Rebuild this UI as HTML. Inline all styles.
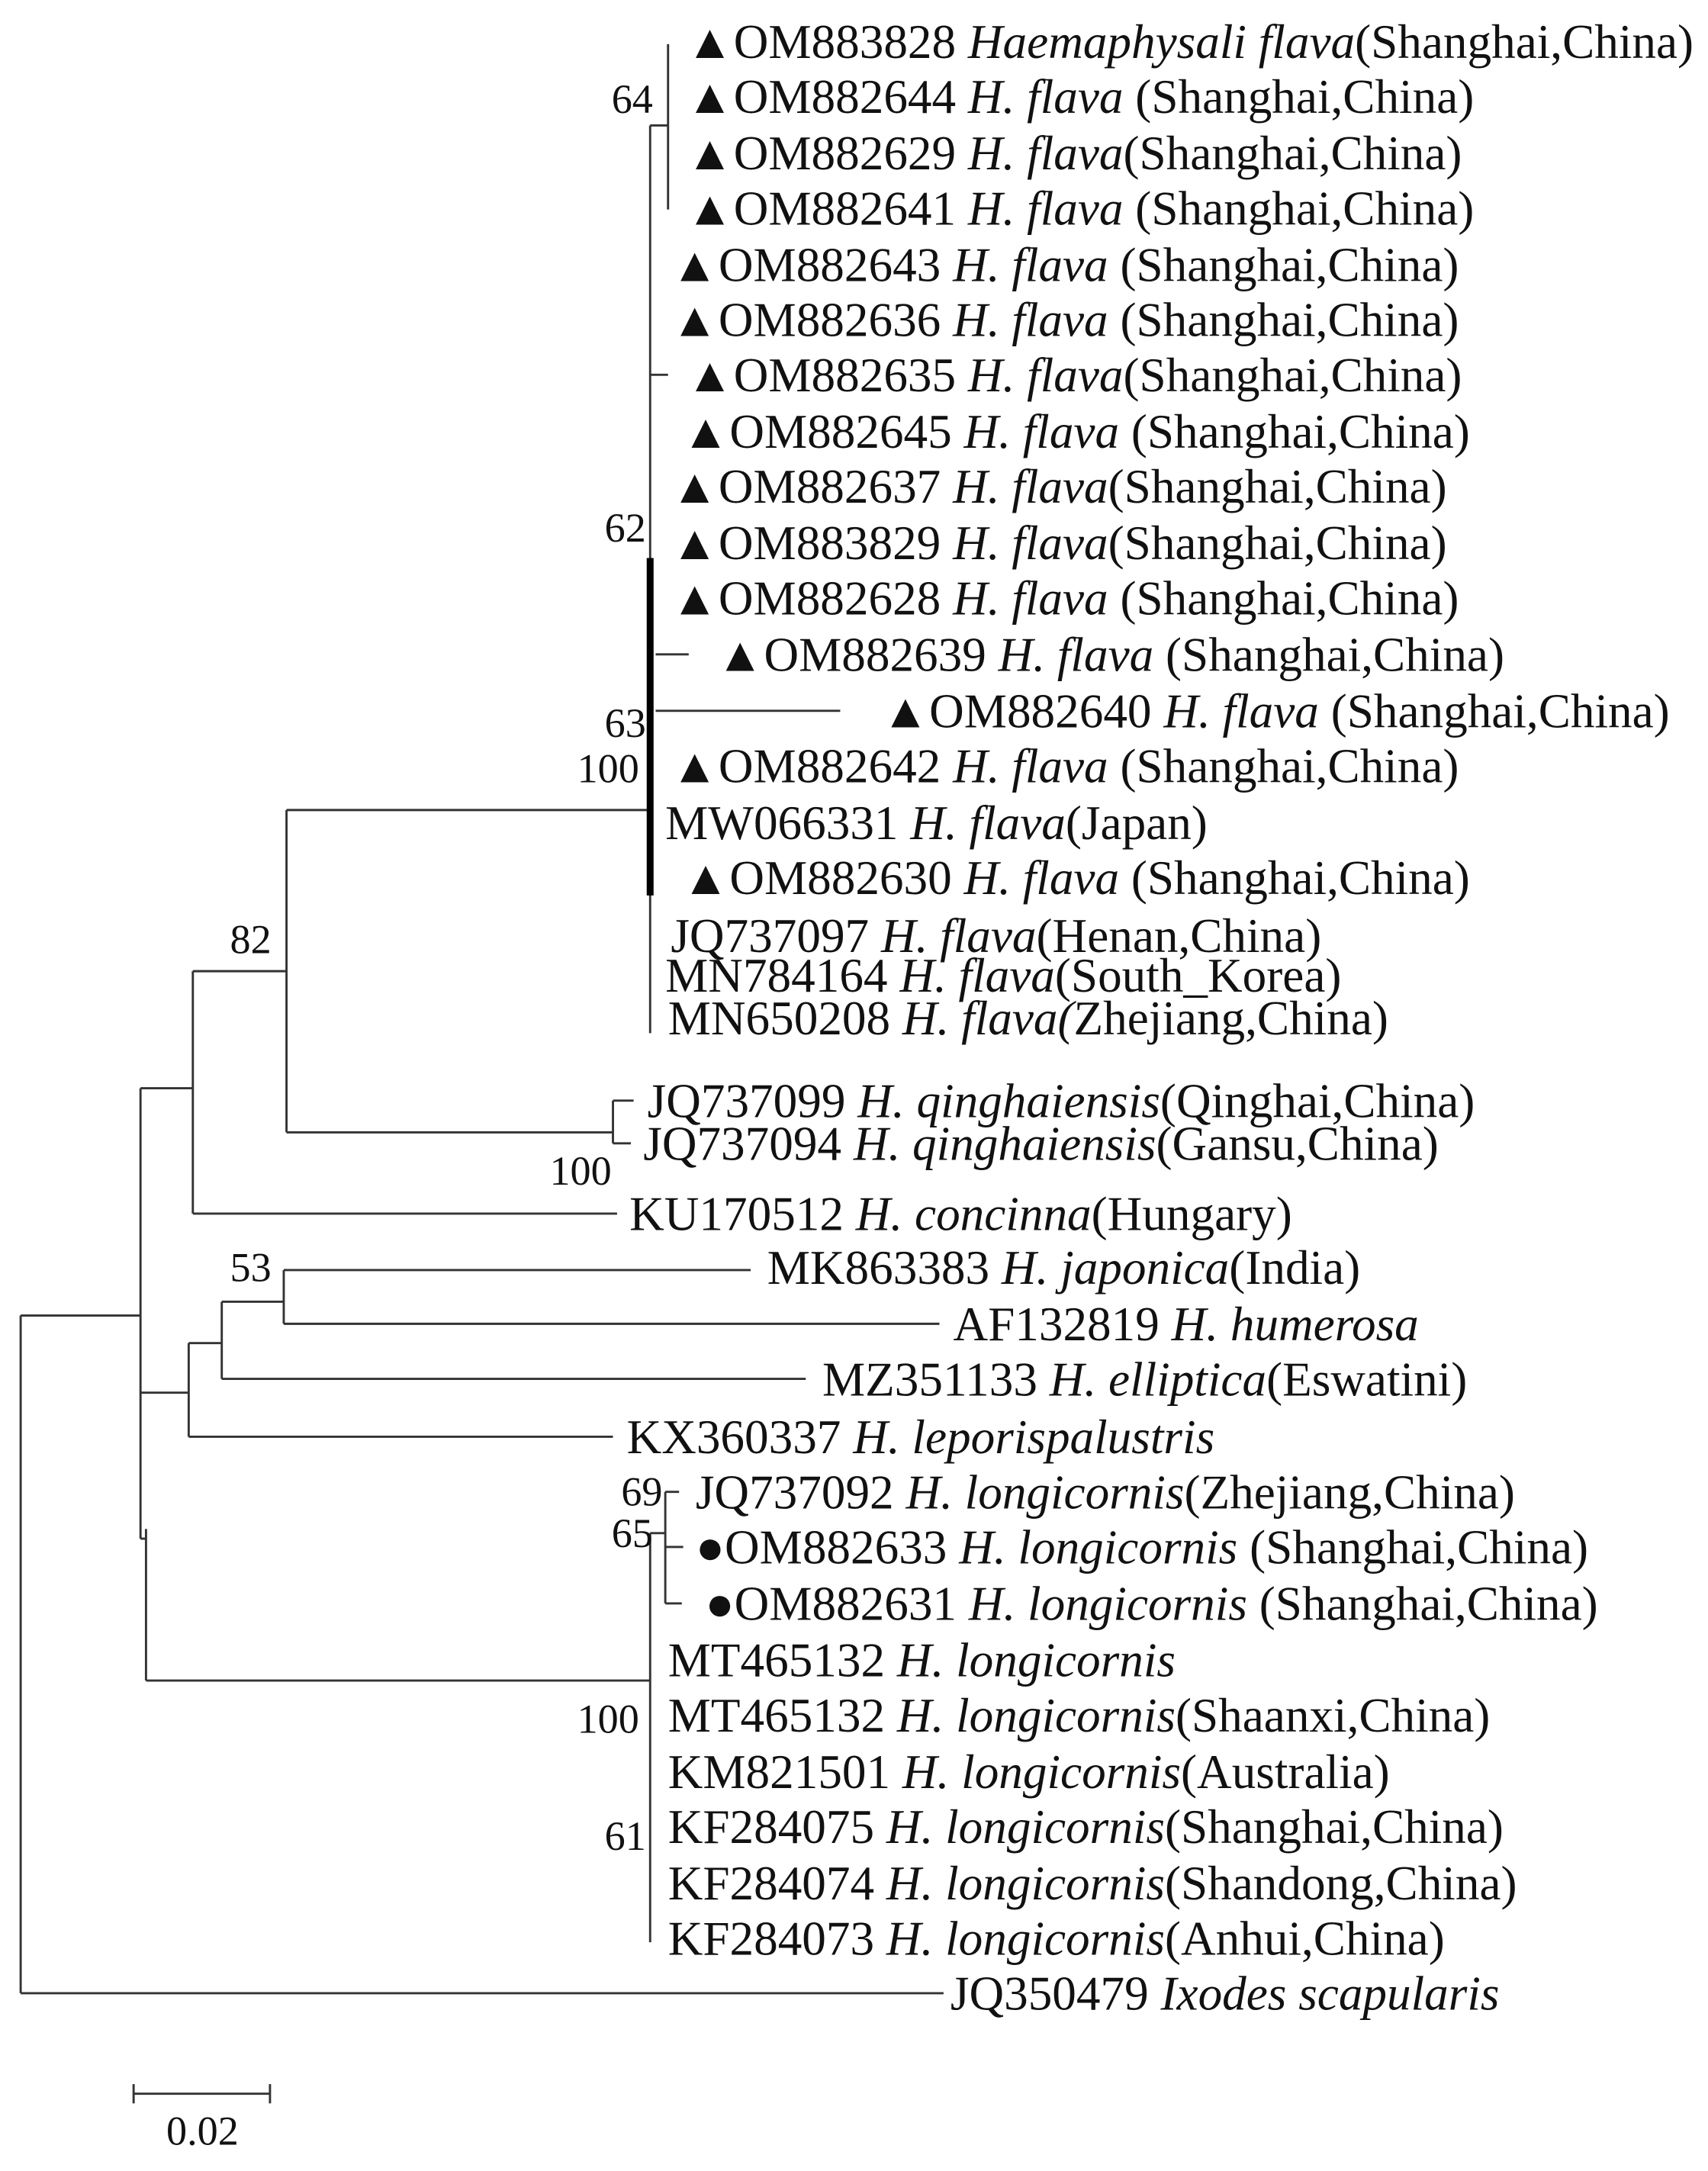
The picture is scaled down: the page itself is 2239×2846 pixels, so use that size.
<!DOCTYPE html>
<html><head><meta charset="utf-8"><style>
html,body{margin:0;padding:0;background:#fff;}
svg{display:block;}
text{font-family:"Liberation Serif","DejaVu Serif",serif;font-size:35px;fill:#111;}
.b{font-size:30px;}
line{stroke:#333;stroke-width:1.6;}
</style></head><body>
<svg width="2239" height="2846" viewBox="0 0 1240 1576" xmlns="http://www.w3.org/2000/svg">
<line x1="15" y1="955" x2="15" y2="1447"/>
<line x1="15" y1="1447" x2="685" y2="1447"/>
<line x1="15" y1="955" x2="102" y2="955"/>
<line x1="102" y1="790" x2="102" y2="1117"/>
<line x1="102" y1="1117" x2="106" y2="1117"/>
<line x1="106" y1="1110" x2="106" y2="1220"/>
<line x1="106" y1="1220" x2="472" y2="1220"/>
<line x1="102" y1="790" x2="140" y2="790"/>
<line x1="140" y1="705" x2="140" y2="881"/>
<line x1="140" y1="881" x2="448" y2="881"/>
<line x1="140" y1="705" x2="208" y2="705"/>
<line x1="208" y1="588" x2="208" y2="822"/>
<line x1="208" y1="588" x2="472" y2="588"/>
<line x1="208" y1="822" x2="445" y2="822"/>
<line x1="445" y1="799" x2="445" y2="830"/>
<line x1="445" y1="799" x2="460" y2="799"/>
<line x1="445" y1="830" x2="458" y2="830"/>
<line x1="102" y1="1011" x2="137" y2="1011"/>
<line x1="137" y1="975" x2="137" y2="1043"/>
<line x1="137" y1="1043" x2="445" y2="1043"/>
<line x1="137" y1="975" x2="161" y2="975"/>
<line x1="161" y1="945" x2="161" y2="1001"/>
<line x1="161" y1="1001" x2="585" y2="1001"/>
<line x1="161" y1="945" x2="206" y2="945"/>
<line x1="206" y1="922" x2="206" y2="961"/>
<line x1="206" y1="922" x2="545" y2="922"/>
<line x1="206" y1="961" x2="682" y2="961"/>
<line x1="472" y1="91" x2="472" y2="750"/>
<line x1="472" y1="405" x2="472" y2="650" style="stroke:#000;stroke-width:5"/>
<line x1="472" y1="91" x2="485" y2="91"/>
<line x1="485" y1="32" x2="485" y2="152"/>
<line x1="472" y1="272" x2="485" y2="272"/>
<line x1="476" y1="475" x2="500" y2="475"/>
<line x1="476" y1="516" x2="610" y2="516"/>
<line x1="472" y1="1113" x2="472" y2="1410"/>
<line x1="472" y1="1113" x2="483" y2="1113"/>
<line x1="483" y1="1083" x2="483" y2="1164"/>
<line x1="483" y1="1083" x2="493" y2="1083"/>
<line x1="483" y1="1123" x2="496" y2="1123"/>
<line x1="483" y1="1164" x2="495" y2="1164"/>
<line x1="97" y1="1520" x2="196" y2="1520"/>
<line x1="97" y1="1513" x2="97" y2="1527"/>
<line x1="196" y1="1513" x2="196" y2="1527"/>
<text x="147" y="1557" text-anchor="middle" class="b">0.02</text>
<text x="444" y="82" class="b">64</text>
<text x="439" y="393" class="b">62</text>
<text x="439" y="535" class="b">63</text>
<text x="419" y="568" class="b">100</text>
<text x="167" y="692" class="b">82</text>
<text x="399" y="860" class="b">100</text>
<text x="167" y="930" class="b">53</text>
<text x="451" y="1093" class="b">69</text>
<text x="444" y="1123" class="b">65</text>
<text x="419" y="1258" class="b">100</text>
<text x="439" y="1343" class="b">61</text>
<text x="498" y="42">▲OM883828 <tspan font-style="italic">Haemaphysali flava</tspan>(Shanghai,China)</text>
<text x="498" y="82">▲OM882644 <tspan font-style="italic">H. flava</tspan> (Shanghai,China)</text>
<text x="498" y="123">▲OM882629 <tspan font-style="italic">H. flava</tspan>(Shanghai,China)</text>
<text x="498" y="163">▲OM882641 <tspan font-style="italic">H. flava</tspan> (Shanghai,China)</text>
<text x="487" y="204">▲OM882643 <tspan font-style="italic">H. flava</tspan> (Shanghai,China)</text>
<text x="487" y="244">▲OM882636 <tspan font-style="italic">H. flava</tspan> (Shanghai,China)</text>
<text x="498" y="284">▲OM882635 <tspan font-style="italic">H. flava</tspan>(Shanghai,China)</text>
<text x="495" y="325">▲OM882645 <tspan font-style="italic">H. flava</tspan> (Shanghai,China)</text>
<text x="487" y="365">▲OM882637 <tspan font-style="italic">H. flava</tspan>(Shanghai,China)</text>
<text x="487" y="406">▲OM883829 <tspan font-style="italic">H. flava</tspan>(Shanghai,China)</text>
<text x="487" y="446">▲OM882628 <tspan font-style="italic">H. flava</tspan> (Shanghai,China)</text>
<text x="520" y="487">▲OM882639 <tspan font-style="italic">H. flava</tspan> (Shanghai,China)</text>
<text x="640" y="528">▲OM882640 <tspan font-style="italic">H. flava</tspan> (Shanghai,China)</text>
<text x="487" y="568">▲OM882642 <tspan font-style="italic">H. flava</tspan> (Shanghai,China)</text>
<text x="483" y="609">MW066331 <tspan font-style="italic">H. flava</tspan>(Japan)</text>
<text x="495" y="649">▲OM882630 <tspan font-style="italic">H. flava</tspan> (Shanghai,China)</text>
<text x="487" y="691">JQ737097 <tspan font-style="italic">H. flava</tspan>(Henan,China)</text>
<text x="483" y="720">MN784164 <tspan font-style="italic">H. flava</tspan>(South_Korea)</text>
<text x="485" y="751">MN650208 <tspan font-style="italic">H. flava(</tspan>Zhejiang,China)</text>
<text x="470" y="811">JQ737099 <tspan font-style="italic">H. qinghaiensis</tspan>(Qinghai,China)</text>
<text x="467" y="842">JQ737094 <tspan font-style="italic">H. qinghaiensis</tspan>(Gansu,China)</text>
<text x="457" y="893">KU170512 <tspan font-style="italic">H. concinna</tspan>(Hungary)</text>
<text x="557" y="932">MK863383 <tspan font-style="italic">H. japonica</tspan>(India)</text>
<text x="692" y="973">AF132819 <tspan font-style="italic">H. humerosa</tspan></text>
<text x="597" y="1013">MZ351133 <tspan font-style="italic">H. elliptica</tspan>(Eswatini)</text>
<text x="455" y="1055">KX360337 <tspan font-style="italic">H. leporispalustris</tspan></text>
<text x="505" y="1095">JQ737092 <tspan font-style="italic">H. longicornis</tspan>(Zhejiang,China)</text>
<text x="505" y="1135">●OM882633 <tspan font-style="italic">H. longicornis</tspan> (Shanghai,China)</text>
<text x="512" y="1176">●OM882631 <tspan font-style="italic">H. longicornis</tspan> (Shanghai,China)</text>
<text x="485" y="1217">MT465132 <tspan font-style="italic">H. longicornis</tspan></text>
<text x="485" y="1257">MT465132 <tspan font-style="italic">H. longicornis</tspan>(Shaanxi,China)</text>
<text x="485" y="1298">KM821501 <tspan font-style="italic">H. longicornis</tspan>(Australia)</text>
<text x="485" y="1338">KF284075 <tspan font-style="italic">H. longicornis</tspan>(Shanghai,China)</text>
<text x="485" y="1379">KF284074 <tspan font-style="italic">H. longicornis</tspan>(Shandong,China)</text>
<text x="485" y="1419">KF284073 <tspan font-style="italic">H. longicornis</tspan>(Anhui,China)</text>
<text x="690" y="1459">JQ350479 <tspan font-style="italic">Ixodes scapularis</tspan></text>
</svg>
</body></html>
